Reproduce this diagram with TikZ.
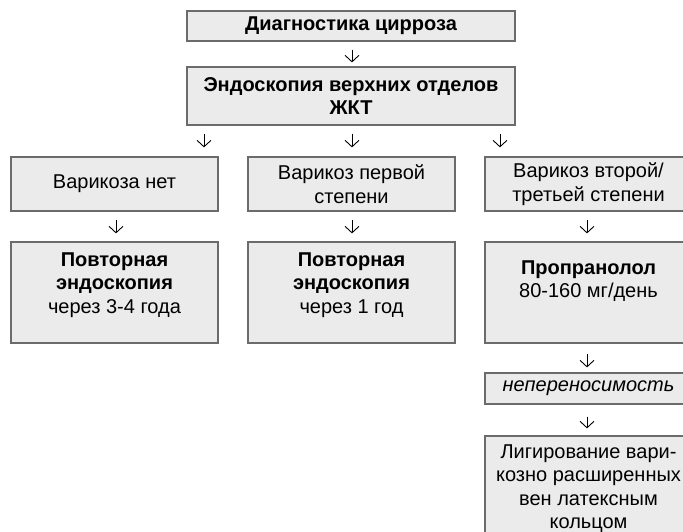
\documentclass[tikz,border=0pt]{standalone}
\usepackage{fontspec}
\setmainfont{Liberation Sans}
\usetikzlibrary{arrows.meta}
\begin{document}
\begin{tikzpicture}[x=1pt,y=-1pt,
  box/.style={draw=black!58, line width=1.2pt, fill=black!8, inner sep=0pt},
  txt/.style={align=center, font=\fontsize{20}{23.5}\selectfont, inner sep=0pt},
  arr/.style={-{Straight Barb[length=6.5pt,width=14pt]}, line width=0.9pt, black}]
\path[use as bounding box, clip] (0,0) rectangle (683,531);
% top boxes
\node[box, txt, minimum width=328pt, minimum height=30pt] (diag) at (351,26) {\bfseries Диагностика цирроза};
\node[box, txt, minimum width=328pt, minimum height=58pt] (endo) at (351,96) {\bfseries Эндоскопия верхних отделов\\\bfseries ЖКТ};
% row 1
\node[box, txt, minimum width=207pt, minimum height=54pt] (none) at (114.5,184) {Варикоза нет};
\node[box, txt, minimum width=207pt, minimum height=54pt] (first) at (351.5,184) {Варикоз первой\\степени};
\node[box, txt, minimum width=207pt, minimum height=54pt] (second) at (588.5,184) {Варикоз второй/\\третьей степени};
% row 2
\node[box, minimum width=207pt, minimum height=101pt] (repA) at (114.5,292.5) {};
\node[txt, anchor=north] (repAt) at ([yshift=-11pt]repA.north) {\bfseries Повторная\\\bfseries эндоскопия\\через 3-4 года};
\node[box, minimum width=207pt, minimum height=101pt] (repB) at (351.5,292.5) {};
\node[txt, anchor=north] (repBt) at ([yshift=-11pt]repB.north) {\bfseries Повторная\\\bfseries эндоскопия\\через 1 год};
\node[box, minimum width=207pt, minimum height=101pt] (prop) at (588.5,292.5) {};
\node[txt, anchor=north] (propt) at ([yshift=-19pt]prop.north) {\bfseries Пропранолол\\80-160 мг/день};
% intolerance and ligation
\node[box, txt, minimum width=207pt, minimum height=31pt] (intol) at (588.5,388.5) {\itshape непереносимость};
\node[box, minimum width=207pt, minimum height=130pt] (lig) at (588.5,501) {};
\node[txt, anchor=north] (ligt) at ([yshift=-9pt]lig.north) {Лигирование вари-\\козно расширенных\\вен латексным\\кольцом};
% arrow columns
\coordinate (xl) at (204,0);
\coordinate (xm) at (352,0);
\coordinate (xr) at (500,0);
\coordinate (xa) at (116,0);
\coordinate (xc) at (587,0);
\draw[arr, shorten <=8pt, shorten >=4pt] (xm |- diag.south) -- (xm |- endo.north);
\draw[arr, shorten <=8pt, shorten >=9pt] (xl |- endo.south) -- (xl |- none.north);
\draw[arr, shorten <=8pt, shorten >=9pt] (xm |- endo.south) -- (xm |- first.north);
\draw[arr, shorten <=8pt, shorten >=9pt] (xr |- endo.south) -- (xr |- second.north);
\draw[arr, shorten <=8pt, shorten >=8pt] (xa |- none.south) -- (xa |- repA.north);
\draw[arr, shorten <=8pt, shorten >=8pt] (xm |- first.south) -- (xm |- repB.north);
\draw[arr, shorten <=8pt, shorten >=8pt] (xc |- second.south) -- (xc |- prop.north);
\draw[arr, shorten <=10pt, shorten >=5pt] (xc |- prop.south) -- (xc |- intol.north);
\draw[arr, shorten <=12pt, shorten >=7pt] (xc |- intol.south) -- (xc |- lig.north);
\end{tikzpicture}
\end{document}
